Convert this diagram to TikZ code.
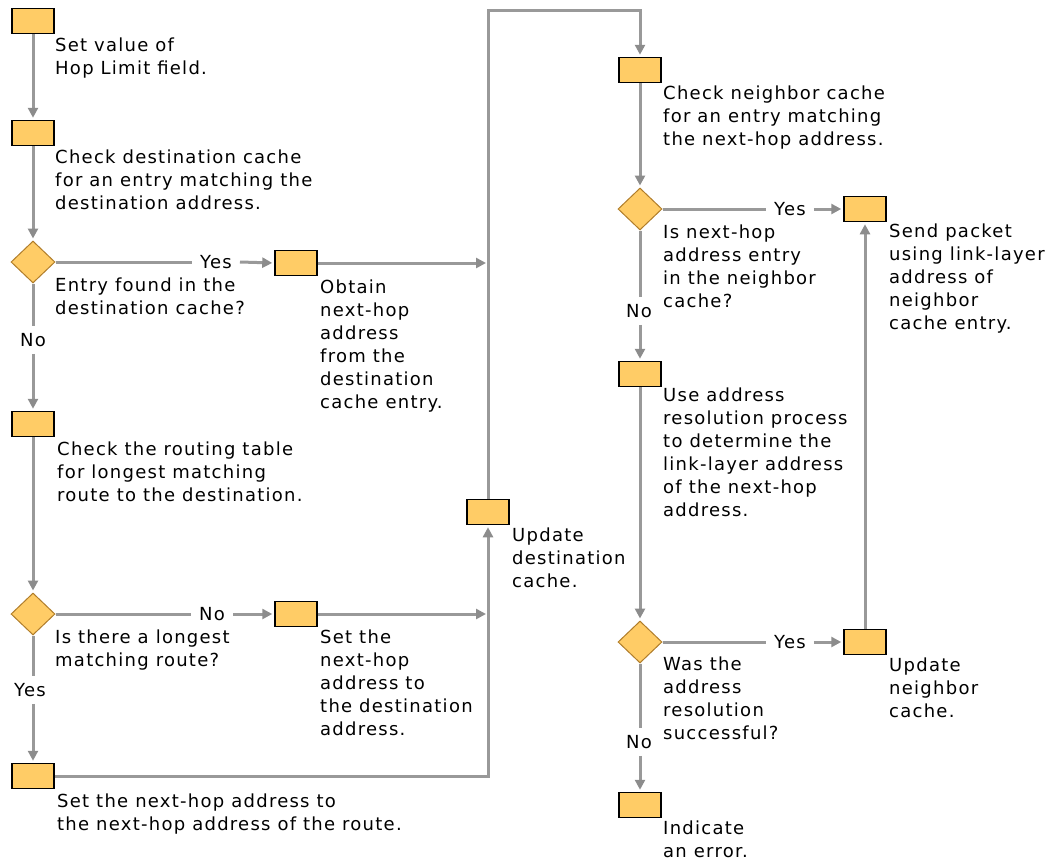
\documentclass[tikz,border=0pt]{standalone}
\usepackage{fontspec}
\setmainfont{DejaVu Sans}[LetterSpace=7.0]
\usetikzlibrary{shapes.geometric,arrows.meta}
\definecolor{boxfill}{HTML}{FFCC66}
\definecolor{flow}{HTML}{999999}
\definecolor{tipcol}{HTML}{8C8C8C}
\definecolor{diaedge}{HTML}{B07D2A}
\begin{document}
\begin{tikzpicture}[x=1pt,y=-1pt,
  stepbox/.style={draw=black,line width=1.5pt,fill=boxfill,minimum width=42pt,minimum height=25pt,inner sep=0pt},
  decision/.style={diamond,draw=diaedge,line width=1pt,fill=boxfill,minimum width=44pt,minimum height=42pt,inner sep=0pt},
  % multi-line notes are placed by the baseline of their last line
  note/.style={anchor=base west,align=left,inner sep=0pt,font=\fontsize{18}{23}\selectfont},
  lbl/.style={inner xsep=8pt,inner ysep=7pt,font=\fontsize{18}{23}\selectfont},
  flowline/.style={draw=flow,line width=3pt},
  arr/.style={flowline,-{Triangle[length=10pt,width=10pt,color=tipcol]},shorten >=2pt},
]
\useasboundingbox (0,0) rectangle (1053,860);

% ---- left column: destination cache and routing table ----
\node[stepbox] (b1) at (33,21) {};
\node[stepbox] (b2) at (33,133) {};
\node[decision] (d1) at (33,262) {};
\node[stepbox] (b3) at (296,263) {};
\node[stepbox] (b4) at (33,424) {};
\node[decision] (d2) at (33,614) {};
\node[stepbox] (b6) at (296,614) {};
\node[stepbox] (b5) at (33,776) {};
\node[stepbox] (bU) at (488,512) {};

% ---- right column: neighbor cache and address resolution ----
\node[stepbox] (bN) at (640,70) {};
\node[decision] (d3) at (640,209) {};
\node[stepbox] (bS) at (865,209) {};
\node[stepbox] (bA) at (640,374) {};
\node[decision] (d4) at (640,642) {};
\node[stepbox] (bUN) at (865,642) {};
\node[stepbox] (bE) at (640,805) {};

% ---- branch labels ----
\node[lbl] (yes1) at (216,262) {Yes};
\node[lbl] (no1) at (33,340) {No};
\node[lbl] (no2) at (212,614) {No};
\node[lbl] (yes2) at (30,690) {Yes};
\node[lbl] (yes3) at (790,209) {Yes};
\node[lbl] (no3) at (639,311) {No};
\node[lbl] (yes4) at (790,642) {Yes};
\node[lbl] (no4) at (639,742) {No};

\coordinate (topL) at (488,10);

% ---- connectors ----
\draw[arr] (b1.south) -- (b2.north);
\draw[arr] (b2.south) -- (d1.north);
\draw[flowline] (d1.east) -- (yes1.west);
\draw[arr] (yes1.east) -- (b3.west);
\draw[arr] (b3.east) -- (b3.east -| bU);
\draw[flowline] (d1.south) -- (d1.south |- no1.north);
\draw[arr] (d1.south |- no1.south) -- (b4.north);
\draw[arr] (b4.south) -- (d2.north);
\draw[flowline] (d2.east) -- (no2.west);
\draw[arr] (no2.east) -- (b6.west);
\draw[arr] (b6.east) -- (b6.east -| bU);
\draw[flowline] (d2.south) -- (d2.south |- yes2.north);
\draw[arr] (d2.south |- yes2.south) -- (b5.north);
\draw[arr] (b5.east) -| (bU.south);
\draw[arr] (bU.north) -- (topL) -| (bN.north);

\draw[arr] (bN.south) -- (d3.north);
\draw[flowline] (d3.east) -- (yes3.west);
\draw[arr] (yes3.east) -- (bS.west);
\draw[flowline] (d3.south) -- (d3.south |- no3.north);
\draw[arr] (d3.south |- no3.south) -- (bA.north);
\draw[arr] (bA.south) -- (d4.north);
\draw[flowline] (d4.east) -- (yes4.west);
\draw[arr] (yes4.east) -- (bUN.west);
\draw[arr] (bUN.north) -- (bS.south);
\draw[flowline] (d4.south) -- (d4.south |- no4.north);
\draw[arr] (d4.south |- no4.south) -- (bE.north);

% ---- step descriptions ----
\node[note] (t1) at (55,74) {Set value of\\Hop Limit field.};
\node[note] (t2) at (55,209) {Check destination cache\\for an entry matching the\\destination address.};
\node[note] (td1) at (55,314) {Entry found in the\\destination cache?};
\node[note] (t3) at (320,408) {Obtain\\next-hop\\address\\from the\\destination\\cache entry.};
\node[note] (t4) at (57,501) {Check the routing table\\for longest matching\\route to the destination.};
\node[note] (td2) at (55,666) {Is there a longest\\matching route?};
\node[note] (t6) at (320,735) {Set the\\next-hop\\address to\\the destination\\address.};
\node[note] (t5) at (57,830) {Set the next-hop address to\\the next-hop address of the route.};
\node[note] (tU) at (512,587) {Update\\destination\\cache.};
\node[note] (tN) at (663,145) {Check neighbor cache\\for an entry matching\\the next-hop address.};
\node[note] (td3) at (663,307) {Is next-hop\\address entry\\in the neighbor\\cache?};
\node[note] (tS) at (889,329) {Send packet\\using link-layer\\address of\\neighbor\\cache entry.};
\node[note] (tA) at (663,516) {Use address\\resolution process\\to determine the\\link-layer address\\of the next-hop\\address.};
\node[note] (td4) at (663,739) {Was the\\address\\resolution\\successful?};
\node[note] (tUN) at (889,717) {Update\\neighbor\\cache.};
\node[note] (tE) at (663,857) {Indicate\\an error.};
\end{tikzpicture}
\end{document}
